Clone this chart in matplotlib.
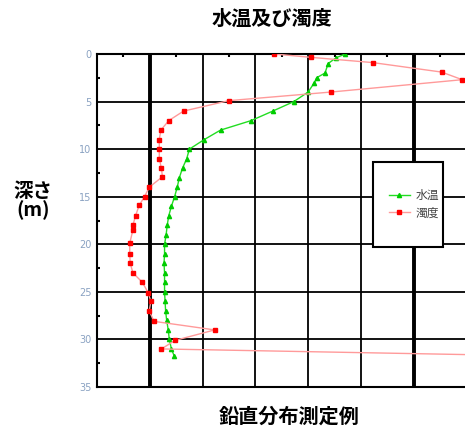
import matplotlib
matplotlib.use('Agg')
import matplotlib.pyplot as plt
from matplotlib.patches import Rectangle

plt.rcParams['font.family'] = ['Noto Sans CJK JP', 'DejaVu Sans']

# 水温 (green) : horizontal position in grid units, depth in m
temp_depth = [0, 0.4, 1, 2, 2.5, 3, 4, 5, 6, 7, 8, 9, 10, 11, 12, 13, 14, 15, 16,
              17, 18, 19, 20, 21, 22, 23, 24, 25, 26, 27, 28, 29, 30, 31, 31.7]
temp_x = [4.70, 4.53, 4.38, 4.32, 4.16, 4.12, 4.00, 3.73, 3.33, 2.92, 2.34, 2.03,
          1.75, 1.70, 1.62, 1.56, 1.52, 1.47, 1.41, 1.36, 1.33, 1.31, 1.28, 1.28,
          1.27, 1.28, 1.28, 1.28, 1.29, 1.30, 1.32, 1.35, 1.37, 1.41, 1.46]

# 濁度 (red)
turb_depth = [0, 0.35, 0.9, 1.9, 2.7, 4.0, 4.9, 6.0, 7.0, 8.0, 9.0, 10.0, 11.0,
              12.0, 12.9, 14.0, 15.0, 15.9, 17.0, 18.0, 18.5, 19.9, 21.0, 22.0,
              23.0, 24.0, 25.1, 26.0, 27.0, 28.1, 29.0, 30.1, 31.0, 31.8]
turb_x = [3.36, 4.05, 5.22, 6.53, 6.92, 4.43, 2.50, 1.64, 1.36, 1.21, 1.18, 1.18,
          1.18, 1.22, 1.24, 0.99, 0.90, 0.80, 0.73, 0.68, 0.68, 0.62, 0.62, 0.63,
          0.68, 0.86, 0.97, 1.02, 0.99, 1.08, 2.23, 1.48, 1.22, 9.0]

y_ticks = [0, 5, 10, 15, 20, 25, 30, 35]
grid_x_thin = [2, 3, 4, 5, 7]
grid_x_thick = [1, 6]

W, H = 465, 429
fig = plt.figure(figsize=(W / 100, H / 100), dpi=100)
ax = fig.add_axes([97 / W, 1 - 387 / H, 380 / W, 333 / H])

ax.set_xlim(0, 7.2)
ax.set_ylim(35, 0)

# grid
for gx in grid_x_thin:
    ax.axvline(gx, color='black', lw=1.3, zorder=1)
for gx in grid_x_thick:
    ax.axvline(gx, color='black', lw=2.8, zorder=1)
for gy in y_ticks[1:-1]:
    ax.axhline(gy, color='black', lw=1.3, zorder=1)

ax.plot(temp_x, temp_depth, color='#22dd22', lw=1, marker='^', ms=3,
        mfc='#00cc00', mec='#00cc00', label='水温', zorder=3)
ax.plot(turb_x, turb_depth, color='#ff9a9a', lw=1, marker='s', ms=3.3,
        mfc='#ff0000', mec='#ff0000', label='濁度', zorder=3)

for s in ['left', 'top', 'bottom']:
    ax.spines[s].set_linewidth(1.5)
ax.spines['right'].set_visible(False)

ax.set_yticks(y_ticks)
ax.set_yticklabels([str(v) for v in y_ticks], color='#8aa2c2', fontsize=7,
                   family='DejaVu Sans')
ax.set_yticks([2.5 + 5 * k for k in range(7)], minor=True)
ax.tick_params(axis='y', which='major', length=0, pad=4)
ax.tick_params(axis='y', which='minor', direction='in', length=2.5, width=1.5)

ax.xaxis.set_ticks_position('top')
ax.set_xticks([0.5 + k for k in range(7)])
ax.set_xticklabels([])
ax.tick_params(axis='x', which='major', direction='in', length=2.5, width=1.5)

# legend box
box = Rectangle((373 / W, 1 - 247 / H), 70 / W, 85 / H, transform=fig.transFigure,
                facecolor='white', edgecolor='black', lw=1.5, zorder=5, clip_on=False)
ax.add_patch(box)
leg = ax.legend(loc='center left', bbox_to_anchor=(378 / W, 1 - 204 / H),
                bbox_transform=fig.transFigure, frameon=False, fontsize=8.5,
                handlelength=1.8, handletextpad=0.5, labelspacing=0.4)
leg.set_zorder(6)
for t in leg.get_texts():
    t.set_color('#444444')

fig.text(272 / W, 1 - 18 / H, '水温及び濁度', ha='center', va='center',
         fontsize=14.5, fontweight='bold')
fig.text(289 / W, 1 - 416 / H, '鉛直分布測定例', ha='center', va='center',
         fontsize=14.5, fontweight='bold')
fig.text(33 / W, 1 - 201 / H, '深さ\n(m)', ha='center', va='center',
         fontsize=14, fontweight='bold', linespacing=1.0)

fig.savefig('out.png', dpi=100)
